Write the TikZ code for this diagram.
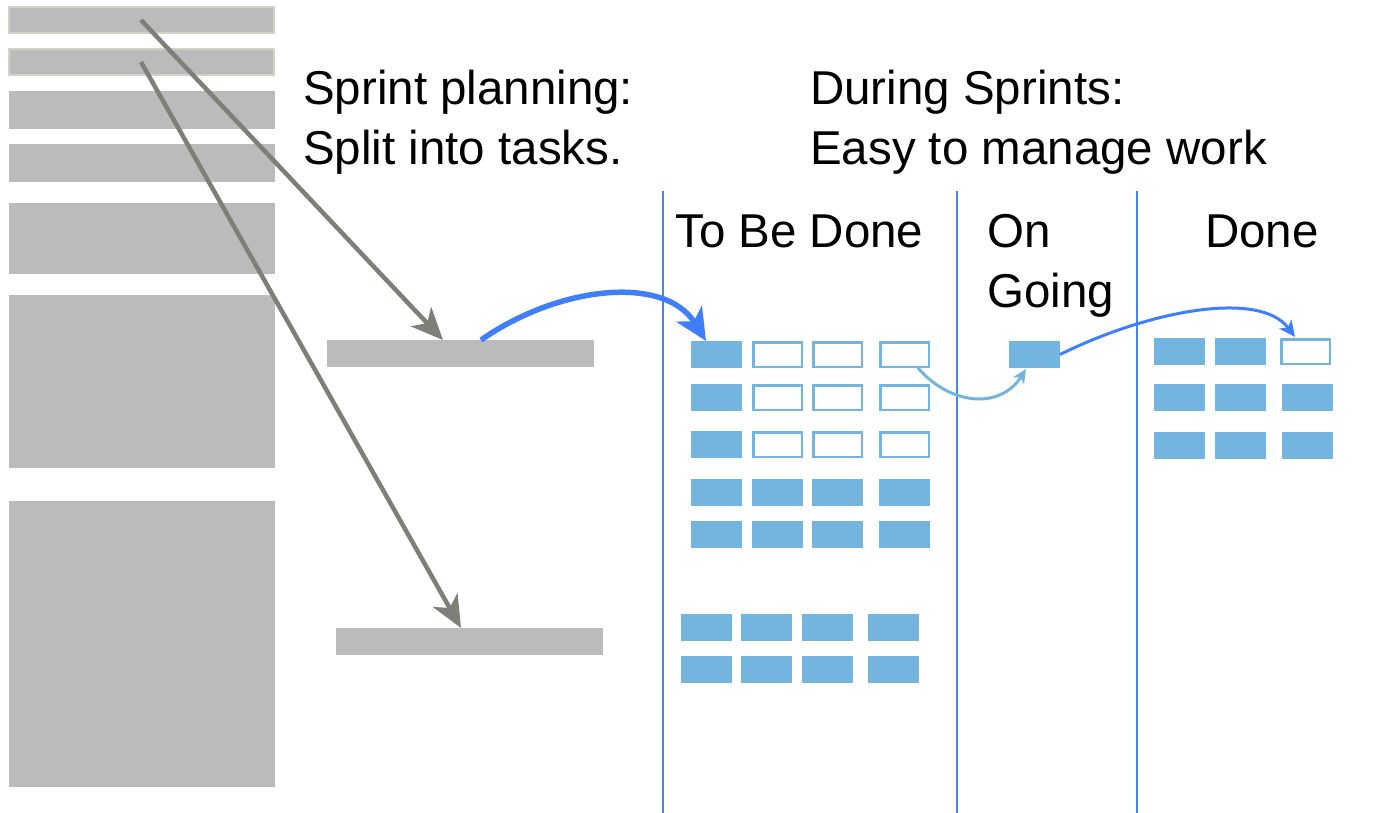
\documentclass[tikz,border=0pt]{standalone}
\usepackage{fontspec}
\setmainfont{Liberation Sans}
\usetikzlibrary{arrows.meta,calc}

\definecolor{bargray}{HTML}{BBBBBB}
\definecolor{barrim}{HTML}{D2D2C8}
\definecolor{linkgray}{HTML}{7F7F7A}
\definecolor{cardblue}{HTML}{74B5E0}
\definecolor{laneblue}{HTML}{4A82F2}
\definecolor{flowblue}{HTML}{3F7FFC}

\tikzset{
  bar/.style={fill=bargray, draw=none, inner sep=0pt, outer sep=0pt, anchor=north west},
  rimbar/.style={bar, draw=barrim, line width=2pt},
  card/.style={fill=cardblue, draw=none, minimum width=51pt, minimum height=27pt,
               inner sep=0pt, outer sep=0pt, anchor=north west},
  opencard/.style={draw=cardblue, line width=2.5pt, fill=white, minimum width=48.5pt,
               minimum height=24.5pt, inner sep=0pt, anchor=north west},
  label/.style={anchor=base west, inner sep=0pt, font=\fontsize{47.5}{57}\selectfont},
  lane/.style={draw=laneblue, line width=2.5pt},
  split/.style={draw=linkgray, line width=4.5pt,
                -{Stealth[length=32pt,width=28pt,inset=9pt]}},
  pull/.style={draw=flowblue, line width=5.5pt,
               -{Stealth[length=32pt,width=30pt,inset=9pt]}},
  start/.style={draw=cardblue, line width=3pt,
               -{Stealth[length=14pt,width=13pt,inset=4pt]}},
  finish/.style={draw=flowblue, line width=3pt,
               -{Stealth[length=16pt,width=15pt,inset=4pt]}},
}

\begin{document}
\begin{tikzpicture}[x=1pt,y=-1pt]
\useasboundingbox (0,0) rectangle (1393,813);

% product backlog
\node[rimbar, minimum width=265pt, minimum height=26pt] (b1) at (8.5,7) {};
\node[rimbar, minimum width=265pt, minimum height=26pt] (b2) at (8.5,49) {};
\node[bar, minimum width=266pt, minimum height=38pt]  (b3) at (9,91) {};
\node[bar, minimum width=266pt, minimum height=38pt]  (b4) at (9,144) {};
\node[bar, minimum width=266pt, minimum height=71pt]  (b5) at (9,203) {};
\node[bar, minimum width=266pt, minimum height=173pt] (b6) at (9,295) {};
\node[bar, minimum width=266pt, minimum height=286pt] (b7) at (9,501) {};

% sprint items
\node[bar, minimum width=267pt, minimum height=27pt] (s1) at (327,340) {};
\node[bar, minimum width=267pt, minimum height=27pt] (s2) at (336,628) {};

% headings
\node[label] (h1) at (303,105) {Sprint planning:};
\node[label] (h2) at (303,165) {Split into tasks.};
\node[label] (h3) at (810,105) {During Sprints:};
\node[label] (h4) at (810,165) {Easy to manage work};

% board lanes
\draw[lane] (663,191) -- (663,813);
\draw[lane] (957,191) -- (957,813);
\draw[lane] (1137,191) -- (1137,813);
\node[label] (l1) at (675,248) {To Be Done};
\node[label] (l2) at (987,248) {On};
\node[label] (l3) at (987,308) {Going};
\node[label] (l4) at (1205,248) {Done};

% to be done: tasks of the first item
\node[card] (t11) at (691,341) {};
\node[opencard] (t12) at (752,341) {};
\node[opencard] (t13) at (812,341) {};
\node[opencard] (t14) at (879,341) {};
\node[card] (t21) at (691,384) {};
\node[opencard] (t22) at (752,384) {};
\node[opencard] (t23) at (812,384) {};
\node[opencard] (t24) at (879,384) {};
\node[card] (t31) at (691,431) {};
\node[opencard] (t32) at (752,431) {};
\node[opencard] (t33) at (812,431) {};
\node[opencard] (t34) at (879,431) {};
\foreach \c/\x in {1/691,2/752,3/812,4/879}{
  \node[card] (t4\c) at (\x,479) {};
  \node[card] (t5\c) at (\x,521) {};
}
% to be done: tasks of the second item
\foreach \c/\x in {1/681,2/741,3/802,4/868}{
  \node[card] (u1\c) at (\x,614) {};
  \node[card] (u2\c) at (\x,656) {};
}

% on going
\node[card] (g1) at (1009,341) {};

% done
\node[card] (d11) at (1154,338) {};
\node[card] (d12) at (1215,338) {};
\node[opencard] (d13) at (1280,338) {};
\foreach \r/\y in {2/384,3/432}{
  \node[card] (d\r1) at (1154,\y) {};
  \node[card] (d\r2) at (1215,\y) {};
  \node[card] (d\r3) at (1282,\y) {};
}

% flows
\coordinate (s1in) at ($(s1.north west)+(116,0)$);
\coordinate (s2in) at ($(s2.north west)+(125,0)$);
\coordinate (s1out) at ($(s1.north west)+(154,0)$);
\coordinate (t11in) at ($(t11.north west)+(15,0)$);
\coordinate (t14out) at ($(t14.south east)+(-12,0)$);
\coordinate (g1in) at ($(g1.south west)+(17,1)$);
\coordinate (d13in) at ($(d13.north west)+(15,-1)$);

\draw[split] (b1.center) -- (s1in);
\draw[split] (b2.center) -- (s2in);
\draw[pull] (s1out) .. controls (560,285) and (665,275) .. (t11in);
\draw[start] (t14out) .. controls (950,405) and (1000,410) .. (g1in);
\draw[finish] (g1.east) .. controls (1150,310) and (1260,290) .. (d13in);
\end{tikzpicture}
\end{document}
